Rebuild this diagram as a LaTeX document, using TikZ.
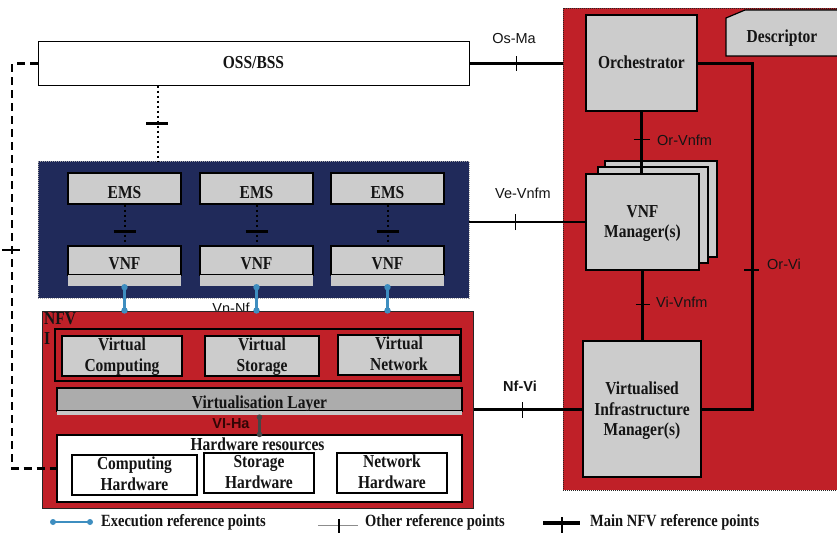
\documentclass[tikz,border=0pt]{standalone}
\usepackage{fontspec}
\usepackage{graphicx}
\setmainfont{Liberation Serif}
\setsansfont{Liberation Sans}
\usetikzlibrary{calc}

\definecolor{nfvred}{RGB}{192,32,40}
\definecolor{vnfnavy}{RGB}{32,42,90}
\definecolor{boxgray}{RGB}{204,204,204}
\definecolor{stripgray}{RGB}{200,200,200}
\definecolor{layergray}{RGB}{172,172,172}
\definecolor{execblue}{RGB}{62,142,192}
\definecolor{vihagray}{RGB}{70,70,70}
\definecolor{darktext}{RGB}{20,20,20}
\definecolor{vihatext}{RGB}{50,5,5}

% labels are set a little taller than wide; the optional argument lowers them
\newcommand{\tallt}[2][2pt]{\raisebox{-#1}[\height][\depth]{\scalebox{1}[1.18]{\begin{tabular}{@{}c@{}}#2\end{tabular}}}}

\tikzset{
  lbl/.style={font=\fontsize{15.5}{17}\selectfont\bfseries, text=darktext, inner sep=0pt},
  iflbl/.style={font=\fontsize{14.5}{17}\selectfont\sffamily, text=darktext, inner sep=0pt},
  legendtext/.style={font=\fontsize{14.5}{17}\selectfont\bfseries, text=darktext, inner sep=0pt, anchor=west},
  box/.style={lbl, draw=black, line width=1.2pt, fill=boxgray},
  hwbox/.style={lbl, draw=black, line width=1.2pt, fill=white},
  strip/.style={fill=stripgray, inner sep=0pt},
  mainref/.style={black, line width=3pt},
  ifline/.style={black, line width=2.3pt},
  reftick/.style={black, line width=1.1pt},
  maintick/.style={black, line width=3pt},
  dotline/.style={black, line width=2pt, dash pattern=on 2pt off 3pt},
  mgmtdash/.style={black, line width=2.5pt, dash pattern=on 8pt off 5pt},
  execref/.style={execblue, line width=2.2pt},
  viharef/.style={vihagray, line width=2.4pt},
}

\begin{document}
\begin{tikzpicture}[x=1pt,y=-1pt]
\clip (0,0) rectangle (837,535);
\fill[white] (0,0) rectangle (837,535);

% ---------- management and orchestration domain ----------
\node[fill=nfvred, draw=black!85, line width=0.8pt, dash pattern=on 1pt off 1pt,
      minimum width=290, minimum height=482, inner sep=0pt] (mano) at (708,249) {};
\draw[fill=boxgray, draw=black, line width=1.2pt]
  (726,18) -- (745,10) -- (850,10) -- (850,56) -- (726,56) -- cycle;
\node[lbl] (desc) at (782,36) {\tallt{Descriptor}};
\node[box, minimum width=111, minimum height=96] (orch) at (641.5,63) {\tallt[1pt]{Orchestrator}};
\node[box, minimum width=112, minimum height=96] (vnfmC) at (661,209) {};
\node[box, minimum width=110, minimum height=96] (vnfmB) at (653,215) {};
\node[box, minimum width=113, minimum height=96] (vnfm) at (642.5,222) {\tallt[1.5pt]{VNF\\Manager(s)}};
\node[box, minimum width=118, minimum height=136] (vim) at (642,409) {\tallt[2pt]{Virtualised\\Infrastructure\\Manager(s)}};

% ---------- OSS/BSS ----------
\node[box, fill=white, line width=1pt, minimum width=431, minimum height=43] (oss) at (253.5,63.5) {\tallt[1pt]{OSS/BSS}};

% ---------- VNF domain ----------
\node[fill=vnfnavy, draw=black!35, line width=0.8pt, dash pattern=on 1pt off 1pt,
      minimum width=431, minimum height=137, inner sep=0pt] (vnfdom) at (253.5,229.5) {};
\foreach \i/\cx in {1/124.5, 2/256.5, 3/387.5}{
  \node[box, minimum width=113, minimum height=31] (ems\i) at (\cx,188.5) {\tallt[6pt]{EMS}};
  \node[box, minimum width=113, minimum height=29] (vnf\i) at (\cx,260.5) {\tallt[4.5pt]{VNF}};
  \node[strip, minimum width=113, minimum height=11] (strip\i) at (\cx,280.5) {};
  \draw[dotline] (ems\i.south) -- (vnf\i.north);
  \coordinate (emst\i) at ($(ems\i.south)!0.65!(vnf\i.north)$);
  \draw[maintick] ([xshift=-11pt]emst\i) -- ([xshift=11pt]emst\i);
}

\node[iflbl] (vnnf) at (231,308) {Vn-Nf};

% ---------- NFV infrastructure ----------
\node[fill=nfvred, draw=black!85, line width=1pt, minimum width=431, minimum height=197, inner sep=0pt] (nfvi) at (257.5,409.5) {};
\node[lbl, anchor=north west] (nfvilbl) at (44,310) {\scalebox{1}[1.18]{\begin{tabular}{@{}l@{}}NFV\\I\end{tabular}}};
\node[fill=nfvred, draw=black, line width=1.2pt, minimum width=406, minimum height=52, inner sep=0pt] (vres) at (258,355) {};
\node[box, minimum width=120, minimum height=40] (vcomp) at (122,356) {\tallt[1pt]{Virtual\\Computing}};
\node[box, minimum width=114, minimum height=40] (vstor) at (262,356) {\tallt[1pt]{Virtual\\Storage}};
\node[box, minimum width=122, minimum height=38] (vnet) at (399,355) {\tallt[1pt]{Virtual\\Network}};
\node[box, fill=layergray, minimum width=405, minimum height=23] (vlayer) at (259.5,399.5) {\tallt[5pt]{Virtualisation Layer}};
\node[strip, minimum width=405, minimum height=4] (vstrip) at (259.5,413) {};
\node[hwbox, minimum width=405, minimum height=67] (hw) at (259.5,468.5) {};
\node[lbl] (hwlbl) at (257.5,444) {\scalebox{1}[1.18]{Hardware resources}};
\node[hwbox, minimum width=125, minimum height=40] (chw) at (134.5,475) {\tallt[1pt]{Computing\\Hardware}};
\node[hwbox, minimum width=110, minimum height=40] (shw) at (259,473) {\tallt[1pt]{Storage\\Hardware}};
\node[hwbox, minimum width=110, minimum height=40] (nhw) at (392,473) {\tallt[1pt]{Network\\Hardware}};

% VI-Ha
\coordinate (viha1) at ([yshift=-2pt]vstrip.south);
\coordinate (viha2) at (hw.north);
\draw[viharef] (viha1) -- (viha2);
\fill[vihagray] (viha1) circle (2.8pt) (viha2) circle (2.8pt);
\node[iflbl, font=\fontsize{14.5}{17}\selectfont\sffamily\bfseries, text=vihatext] (vihalbl) at (231,424) {VI-Ha};

% execution reference points Vn-Nf
\foreach \i in {1,2,3}{
  \coordinate (ex\i a) at ([yshift=-1pt]strip\i.south);
  \coordinate (ex\i b) at (strip\i.south |- nfvi.north);
  \draw[execref] (ex\i a) -- (ex\i b);
  \fill[execblue] (ex\i a) circle (3.2pt) (ex\i b) circle (3.2pt);
}

% ---------- reference points ----------
% OSS/BSS to VNF domain
\coordinate (ox) at (158,0);
\draw[dotline] (oss.south -| ox) -- (vnfdom.north -| ox);
\coordinate (oxt) at (157,123);
\draw[maintick] ([xshift=-11pt]oxt) -- ([xshift=11pt]oxt);

% OSS/BSS to infrastructure
\coordinate (lx) at (12,0);
\draw[mgmtdash] (oss.west) -- (oss.west -| lx) -- (lx |- hw.west) -- (hw.west);
\coordinate (lxt) at (12,250);
\draw[reftick] ([xshift=-10pt]lxt) -- ([xshift=8pt]lxt);

% Os-Ma
\draw[ifline] (oss.east) -- (oss.east -| mano.west);
\coordinate (osma) at ($(oss.east)!0.5!(oss.east -| mano.west)$);
\draw[reftick] ([yshift=-7pt]osma) -- ([yshift=7pt]osma);
\node[iflbl] (osmalbl) at (514,39) {Os-Ma};

% Ve-Vnfm
\draw[ifline] (vnfdom.east |- vnfm.west) -- (vnfm.west);
\coordinate (vevnfm) at ($(vnfdom.east |- vnfm.west)!0.4!(vnfm.west)$);
\draw[reftick] ([yshift=-8pt]vevnfm) -- ([yshift=8pt]vevnfm);
\node[iflbl] (vevnfmlbl) at (523,193) {Ve-Vnfm};

% Nf-Vi
\draw[ifline] (nfvi.east) -- (nfvi.east -| vim.west);
\coordinate (nfvi-t) at ($(nfvi.east)!0.45!(nfvi.east -| vim.west)$);
\draw[reftick] ([yshift=-8pt]nfvi-t) -- ([yshift=8pt]nfvi-t);
\node[iflbl, font=\fontsize{14.5}{17}\selectfont\sffamily\bfseries] (nfvilbl2) at (520,386) {Nf-Vi};

% Or-Vnfm
\draw[mainref] (orch.south) -- (orch.south |- vnfm.north);
\coordinate (orvnfm) at ($(orch.south)!0.45!(orch.south |- vnfm.north)$);
\draw[reftick] ([xshift=-8pt]orvnfm) -- ([xshift=8pt]orvnfm);
\node[iflbl, anchor=west] (orvnfmlbl) at (657,140) {Or-Vnfm};

% Vi-Vnfm
\draw[mainref] (vnfm.south) -- (vnfm.south |- vim.north);
\coordinate (vivnfm) at ($(vnfm.south)!0.48!(vnfm.south |- vim.north)$);
\draw[reftick] ([xshift=-7pt]vivnfm) -- ([xshift=7pt]vivnfm);
\node[iflbl, anchor=west] (vivnfmlbl) at (656,302) {Vi-Vnfm};

% Or-Vi
\coordinate (orvi) at (752,0);
\draw[mainref] (orch.east) -- (orch.east -| orvi) -- (orvi |- vim.east) -- (vim.east);
\coordinate (orvit) at (752,270);
\draw[reftick] ([xshift=-8pt]orvit) -- ([xshift=7pt]orvit);
\node[iflbl, anchor=west] (orvilbl) at (767,264) {Or-Vi};

% ---------- legend ----------
\coordinate (lgA1) at (53,522);
\coordinate (lgA2) at (90,522);
\draw[execref] (lgA1) -- (lgA2);
\fill[execblue] (lgA1) circle (3pt) (lgA2) circle (3pt);
\node[legendtext] (lgAt) at (101,522) {\scalebox{1}[1.18]{Execution reference points}};

\coordinate (lgB1) at (318,525);
\coordinate (lgB2) at (358,525);
\coordinate (lgBt) at (339,525);
\draw[black!45, line width=0.8pt] (lgB1) -- (lgB2);
\draw[reftick] ([yshift=6pt]lgBt) -- ([yshift=-8pt]lgBt);
\node[legendtext] (lgBtx) at (365,522) {\scalebox{1}[1.18]{Other reference points}};

\coordinate (lgC1) at (543,523);
\coordinate (lgC2) at (580,523);
\coordinate (lgCt) at (562,523);
\draw[black, line width=4pt] (lgC1) -- (lgC2);
\draw[black, line width=1.5pt] ([yshift=6pt]lgCt) -- ([yshift=-10pt]lgCt);
\node[legendtext] (lgCtx) at (590,522) {\scalebox{1}[1.18]{Main NFV reference points}};
\end{tikzpicture}
\end{document}
